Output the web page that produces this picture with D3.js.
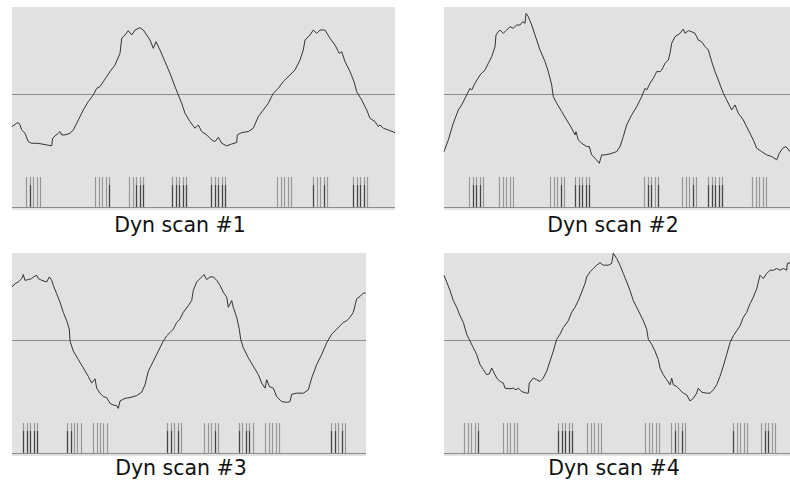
<!DOCTYPE html>
<html>
<head>
<meta charset="utf-8">
<script src="https://d3js.org/d3.v7.min.js"></script>
<style>
  body { margin: 0; background: #fff; }
  svg { display: block; }
</style>
</head>
<body>
<svg id="chart" width="790" height="485"></svg>
<script>
// membrane traces: [time, value], value 0 = reference line
const scan1Trace = [[0,-37.5],[4.7,-33.7],[6.3,-32.9],[8,-35.6],[9.7,-41.4],[13,-45.2],[16.3,-54.8],[19.7,-56.7],[24.7,-56.7],[29.7,-57.5],[34.7,-58.6],[39.7,-59.7],[40.7,-50.9],[43,-48.3],[46.3,-45.2],[48,-43.3],[49.7,-47.1],[53,-47.1],[58,-45.2],[61.3,-41.4],[64.7,-33.7],[68,-26],[71.3,-18.4],[76.3,-8.8],[81.3,-1.1],[84.7,6.5],[88,8.4],[91.3,14.2],[94.7,19.9],[98,25.7],[103,33.3],[108,46.7],[109.7,64],[113,67.8],[116.3,72.8],[119.7,67.8],[123,73.5],[128,76.2],[131.3,73.5],[134.7,67.8],[138,62],[141.3,52.5],[144,60.1],[148,50.6],[153,37.2],[158,23.7],[163,8.4],[166.3,-1.1],[169.7,-10.7],[173,-22.2],[178,-31.8],[183,-39.4],[186.3,-35.6],[189.7,-43.3],[194.7,-47.1],[199.7,-52.9],[203,-54.8],[206.3,-49.8],[209.7,-56.7],[214.7,-59.7],[219.7,-57.5],[224.7,-55.9],[225.3,-47.1],[229.7,-44.4],[236.3,-43.3],[241.3,-39.4],[246.3,-26],[251.3,-18.4],[256.3,-10.7],[261.3,0.8],[266.3,6.5],[271.3,14.2],[278,21.8],[283,27.6],[288,39.1],[291.3,50.6],[293,62],[298,67.8],[301.3,73.5],[304.7,69.7],[308,73.5],[313,73.5],[318,64],[323,56.3],[327.3,46.7],[329.7,48.6],[333,37.2],[338,25.7],[342,14.2],[344.7,2.7],[349.7,-6.9],[354.7,-18.4],[358,-28],[363,-31.8],[366.3,-37.5],[368,-35.6],[371.3,-39.4],[376.3,-41.4],[383,-44.4]];

const scan2Trace = [[0,-66.3],[4.3,-52.9],[9.3,-33.7],[14.3,-18.4],[17.7,-12.6],[22.7,-1.1],[26,6.5],[27.7,4.6],[31,12.3],[36,21.8],[41,27.6],[44.3,35.2],[47.7,42.9],[51,54.4],[52,67.8],[54.3,71.6],[56,73.5],[59.3,69.7],[62.7,73.5],[66,77.4],[69.3,75.5],[72.7,79.3],[76,79.3],[78.7,83.1],[81,81.2],[82,92.7],[84.3,88.9],[87.7,79.3],[91,67.8],[96,50.6],[101,37.2],[104.3,25.7],[107.7,10.3],[109.3,-3.1],[112.7,-10.7],[117.7,-20.3],[122.7,-29.9],[127.7,-39.4],[131,-47.1],[132,-43.3],[134.3,-52.9],[137.7,-56.7],[142.7,-60.5],[145.3,-60.5],[147.7,-70.1],[151,-73.9],[155.3,-79.7],[157.7,-70.1],[161,-70.1],[166,-68.9],[172.7,-66.3],[176,-60.5],[179.3,-49],[182.7,-35.6],[187.7,-24.1],[192.7,-14.6],[197.7,-3.1],[201,6.5],[202.7,4.6],[206,12.3],[209.3,18],[212.7,25.7],[216,25.7],[217.7,27.6],[221,35.2],[224.3,39.1],[226,46.7],[227.7,58.2],[231,65.9],[236,69.7],[239.3,74.7],[241,69.7],[244.3,72.8],[247.7,71.6],[251,69.7],[254.3,62],[257.7,60.1],[261,54.4],[264.3,50.6],[265.3,46.7],[267.7,37.2],[271,25.7],[274.3,16.1],[279.3,0.8],[282.7,-6.9],[287.7,-18.4],[291,-12.6],[294.3,-22.2],[299.3,-29.9],[304.3,-41.4],[309.3,-52.9],[312.7,-62.4],[317.7,-66.3],[322.7,-70.1],[327.7,-72],[332.7,-75.8],[335.3,-68.2],[338.7,-62.4],[342,-60.5],[346,-66.3]];

const scan3Trace = [[0,60.9],[3,64.7],[6.3,66.7],[9.7,70.5],[11.3,75.2],[13,68.6],[16.3,69.4],[19.7,70.5],[21.3,72.5],[24.7,74.4],[26.3,70.5],[29.7,68.6],[34.7,66.7],[37.3,72.5],[39.7,68.6],[41.3,62.8],[44.7,53.1],[48,43.4],[51.3,31.8],[54.7,22.1],[57.3,12.4],[58,-1.2],[61.3,-12.8],[66.3,-22.5],[71.3,-32.2],[76.3,-41.9],[79.7,-49.6],[83,-44.6],[84.7,-55.4],[88,-61.2],[91.3,-65.1],[94.7,-66.3],[98,-72.9],[101.3,-74.8],[104.7,-75.6],[106.3,-78.7],[108,-70.2],[113,-67.1],[118,-66.3],[124.7,-64],[129.7,-60.1],[133,-51.6],[136.3,-36],[141.3,-24.4],[146.3,-12.8],[151.3,-1.2],[154.7,4.7],[158,8.5],[161.3,12.4],[164.7,20.2],[168,24],[171.3,31.8],[176.3,39.5],[179.7,45.3],[181.3,57],[184.7,66.7],[188,70.5],[192,75.2],[194.7,69.4],[198,72.5],[201.3,72.5],[204.7,68.6],[208,62.8],[211.3,55],[214.7,49.2],[216.3,37.6],[219.7,45.3],[221.3,37.6],[224.7,26],[227.3,12.4],[228.7,0.8],[231.3,-8.9],[236.3,-20.5],[241.3,-30.2],[246.3,-39.9],[249.7,-49.6],[253,-55.4],[254.7,-45.7],[257.3,-53.5],[261.3,-55.4],[264.7,-65.1],[269.7,-70.9],[274.7,-71.7],[278,-70.9],[279.7,-62.4],[284.7,-61.2],[291.3,-61.2],[296.3,-57.4],[299.7,-43.8],[304.7,-28.3],[309.7,-16.7],[314.7,-3.1],[319.7,6.6],[324.7,12.4],[328,16.3],[331.3,20.2],[334.7,22.1],[338,26],[341.3,31.8],[343,39.5],[344.7,47.3],[348,50],[351.3,53.9],[353.7,53.9]];

const scan4Trace = [[0,74.4],[2.7,66.7],[6,57],[9.3,45.3],[12.7,37.6],[16,27.9],[19.3,20.2],[22.7,6.6],[26,-1.2],[29.3,-8.9],[32.7,-16.7],[36,-28.3],[39.3,-34.1],[42.7,-39.9],[45.3,-39.1],[47.7,-32.2],[49.3,-36],[52.7,-43.8],[56,-47.7],[59.3,-49.6],[61,-55.4],[66,-56.2],[69.3,-55.4],[72,-57.4],[74.3,-55.4],[77.7,-59.3],[82.7,-61.2],[84.3,-61.2],[85.3,-49.6],[89.3,-43.8],[92.7,-45.7],[96,-47.7],[99.3,-43.8],[102.7,-36],[106,-24.4],[109.3,-12.8],[112.7,0.8],[116,6.6],[119.3,14.3],[124.3,22.1],[127.7,31.8],[131,37.6],[134.3,45.3],[137.7,55],[141,64.7],[142.7,72.5],[146,78.3],[149.3,82.2],[152.7,86],[156,88.8],[159.3,86],[164.3,86],[167.7,88],[169.3,99.6],[172.7,93.8],[176,86],[179.3,76.4],[182.7,66.7],[186,57],[189.3,45.3],[192.7,37.6],[196,29.8],[199.3,22.1],[202.7,12.4],[204.3,0.8],[207.7,-5],[211,-12.8],[214.3,-22.5],[216,-32.2],[219.3,-39.9],[222.7,-45.7],[226,-51.6],[227.7,-43.8],[229.3,-51.6],[232.7,-53.5],[236,-57.4],[239.3,-61.2],[242.7,-63.2],[246,-70.2],[249.3,-67.1],[252.7,-61.2],[254.3,-55.4],[257.7,-60.1],[262.7,-61.2],[266,-61.2],[269.3,-57.4],[272.7,-51.6],[276,-41.9],[279.3,-30.2],[282.7,-16.7],[286,-3.1],[289.3,4.7],[292.7,10.5],[296,16.3],[299.3,26],[302.7,31.8],[306,41.5],[309.3,49.2],[312.7,58.9],[316,74.4],[319.3,70.5],[322.7,76.4],[326,80.2],[329.3,80.2],[332.7,82.2],[336,80.2],[339.3,82.2],[342.7,80.2],[343.3,88],[346,88.8]];

// burst onsets (same time units) and which spikes of each burst are dark
const scan1Bursts = [14, 83, 117, 160, 199, 265, 301, 341];
const scan1Dark = [[1], [4], [2, 3, 4], [0, 1, 2, 3, 4], [0, 1, 2, 3, 4], [], [0, 3], [0, 1, 2, 3]];
const scan2Bursts = [25, 55, 106, 131, 200, 238, 264, 308];
const scan2Dark = [[1, 2, 3], [], [3], [0, 1, 2, 3, 4], [1, 2, 4], [3], [0, 1, 2, 3, 4], []];
const scan3Bursts = [11, 55, 81, 155, 192, 227, 253, 319];
const scan3Dark = [[0, 1, 2, 3, 4], [0, 1], [], [0, 1, 3], [3], [0, 2, 3], [], [0, 1, 3]];
const scan4Bursts = [20, 59, 114, 143, 201, 227, 289, 317];
const scan4Dark = [[4], [], [0, 1, 2, 3, 4], [], [], [1, 3], [0], [1, 2]];
const spikeOffsets = [0, 3.5, 7, 10.5, 14];

const labels = ['Dyn scan #1', 'Dyn scan #2', 'Dyn scan #3', 'Dyn scan #4'];
const timeSpans = [383, 346, 354, 346];

// layout
const panels = [
  { x: 12, y: 7, w: 383, labelX: 180, labelY: 232, trace: scan1Trace, bursts: scan1Bursts, dark: scan1Dark },
  { x: 444, y: 7, w: 346, labelX: 613, labelY: 232, trace: scan2Trace, bursts: scan2Bursts, dark: scan2Dark },
  { x: 12, y: 253, w: 354, labelX: 181, labelY: 475, trace: scan3Trace, bursts: scan3Bursts, dark: scan3Dark },
  { x: 444, y: 253, w: 346, labelX: 614, labelY: 475, trace: scan4Trace, bursts: scan4Bursts, dark: scan4Dark }
];
const plotH = 200, rectH = 203;
const spikeTop = 170, darkTop = 178;

const svg = d3.select('#chart');

panels.forEach((p, i) => {
  const x = d3.scaleLinear().domain([0, timeSpans[i]]).range([p.x, p.x + p.w]);
  const y = d3.scaleLinear().domain([-130, 100]).range([p.y + plotH, p.y]);
  const g = svg.append('g');

  g.append('rect')
    .attr('x', p.x).attr('y', p.y)
    .attr('width', p.w).attr('height', rectH)
    .attr('fill', '#e1e1e1');

  // reference line and spike baseline
  [0, -130].forEach(v => {
    const yy = Math.round(y(v)) + 0.5;
    g.append('line')
      .attr('x1', p.x).attr('x2', p.x + p.w)
      .attr('y1', yy).attr('y2', yy)
      .attr('stroke', '#8c8c8c')
      .attr('stroke-width', 1);
  });

  // spikes
  const spikes = [];
  p.bursts.forEach((b, bi) => {
    spikeOffsets.forEach((o, si) => {
      spikes.push({ t: b + o, dark: p.dark[bi].includes(si) });
    });
  });
  const base = p.y + plotH;
  g.selectAll('line.spike')
    .data(spikes)
    .enter().append('line')
    .attr('class', 'spike')
    .attr('x1', d => Math.round(x(d.t)) + 0.5)
    .attr('x2', d => Math.round(x(d.t)) + 0.5)
    .attr('y1', p.y + spikeTop)
    .attr('y2', base)
    .attr('stroke', '#979797')
    .attr('stroke-width', 1.2);
  g.selectAll('line.dark')
    .data(spikes.filter(d => d.dark))
    .enter().append('line')
    .attr('class', 'dark')
    .attr('x1', d => Math.round(x(d.t)) + 0.5)
    .attr('x2', d => Math.round(x(d.t)) + 0.5)
    .attr('y1', p.y + darkTop)
    .attr('y2', base)
    .attr('stroke', '#444')
    .attr('stroke-width', 1.2);

  const line = d3.line().x(d => x(d[0])).y(d => y(d[1]));
  g.append('path')
    .datum(p.trace)
    .attr('d', line)
    .attr('fill', 'none')
    .attr('stroke', '#333')
    .attr('stroke-width', 1);

  g.append('text')
    .attr('x', p.labelX)
    .attr('y', p.labelY)
    .attr('text-anchor', 'middle')
    .style('font-family', 'Verdana, "DejaVu Sans", sans-serif')
    .style('font-size', '20.5px')
    .style('fill', '#111')
    .text(labels[i]);
});
</script>
</body>
</html>
